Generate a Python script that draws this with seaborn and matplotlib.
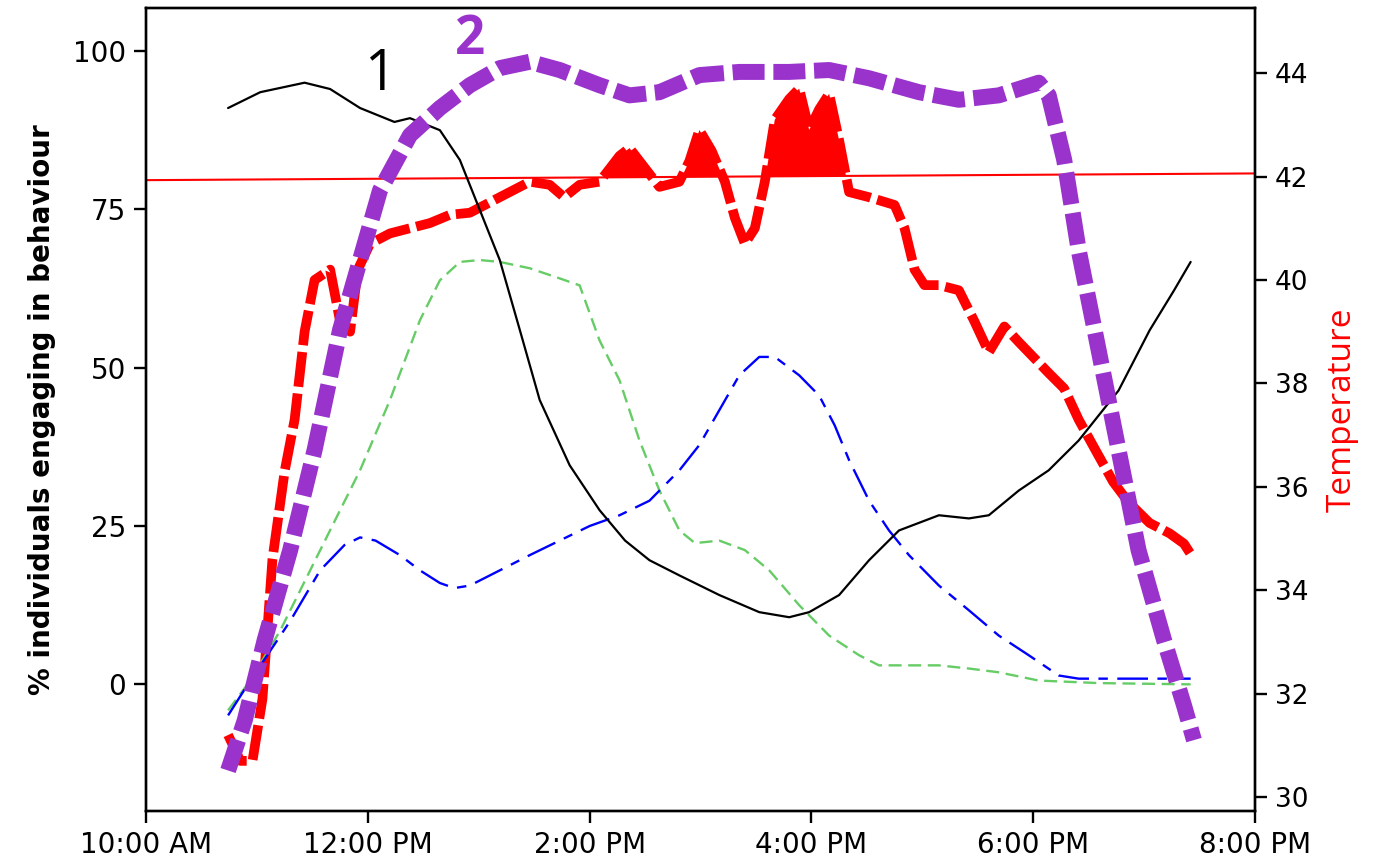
import numpy as np
import matplotlib
matplotlib.use("Agg")
import matplotlib.pyplot as plt
import seaborn as sns

# ---- data (hours of day) ----
black_t = [10.74, 11.03, 11.43, 11.66, 11.93, 12.24, 12.38, 12.65, 12.83, 13.01, 13.19, 13.37,
           13.55, 13.82, 14.09, 14.32, 14.54, 14.81, 15.17, 15.53, 15.80, 15.98, 16.25, 16.52,
           16.79, 17.15, 17.42, 17.60, 17.87, 18.14, 18.41, 18.77, 19.05, 19.27, 19.42]
black_v = [91.0, 93.5, 95.0, 94.0, 91.0, 88.8, 89.4, 87.5, 82.8, 74.9, 67.0, 56.0,
           44.9, 34.6, 27.5, 22.7, 19.6, 17.2, 14.1, 11.4, 10.6, 11.4, 14.1, 19.6,
           24.3, 26.7, 26.2, 26.7, 30.6, 33.8, 38.5, 46.4, 55.9, 62.2, 66.7]

purple_t = [10.74, 10.89, 11.07, 11.30, 11.52, 11.75, 11.93, 12.11, 12.38, 12.65, 12.92, 13.19,
            13.46, 13.73, 14.09, 14.36, 14.63, 14.99, 15.35, 15.80, 16.16, 16.52, 16.97, 17.33,
            17.69, 18.05, 18.14, 18.28, 18.41, 18.59, 18.77, 18.95, 19.18, 19.36, 19.45]
purple_v = [-13.6, -5.7, 7.0, 21.2, 37.0, 56.0, 67.0, 78.0, 86.7, 91.0, 94.6, 97.3,
            98.3, 97.0, 94.6, 93.0, 93.5, 96.2, 96.7, 96.7, 97.0, 95.7, 93.5, 92.3,
            93.0, 95.0, 93.0, 82.8, 68.6, 52.8, 37.0, 21.2, 7.0, -3.3, -8.8]

green_t = [10.74, 10.94, 11.21, 11.48, 11.75, 11.93, 12.20, 12.47, 12.65, 12.83, 13.01, 13.19,
           13.46, 13.73, 13.91, 14.09, 14.27, 14.45, 14.63, 14.81, 14.95, 15.17, 15.40, 15.62,
           15.89, 16.16, 16.43, 16.61, 17.15, 17.42, 17.69, 18.05, 18.59, 19.42]
green_v = [-4.1, 0.6, 8.5, 18.0, 27.5, 33.8, 44.9, 57.5, 63.8, 66.7, 67.0, 66.7,
           65.7, 64.1, 63.0, 54.3, 48.0, 38.5, 30.6, 24.3, 22.3, 22.7, 21.2, 18.0,
           12.5, 7.7, 4.6, 3.0, 3.0, 2.5, 1.9, 0.6, 0.2, 0.0]

blue_t = [10.74, 10.94, 11.30, 11.57, 11.79, 11.93, 12.07, 12.29, 12.47, 12.65, 12.78, 12.92,
          13.19, 13.46, 13.73, 14.00, 14.27, 14.54, 14.81, 14.99, 15.17, 15.35, 15.53, 15.67,
          15.89, 16.07, 16.21, 16.34, 16.52, 16.70, 16.88, 17.15, 17.42, 17.69, 17.96, 18.23,
          18.41, 19.42]
blue_v = [-4.9, 0.6, 10.0, 18.0, 22.0, 23.2, 22.7, 20.4, 18.0, 16.0, 15.2, 15.6,
          18.0, 20.4, 22.7, 25.0, 26.7, 29.0, 33.8, 37.8, 43.3, 48.8, 51.7, 51.7,
          48.8, 45.6, 40.9, 35.4, 29.0, 24.3, 20.4, 15.6, 11.7, 7.7, 4.6, 1.4,
          0.9, 0.9]

temp_t = [10.74, 10.85, 10.96, 11.05, 11.14, 11.25, 11.34, 11.43, 11.52, 11.66, 11.75, 11.84,
          11.91, 12.02, 12.20, 12.38, 12.56, 12.74, 12.92, 13.10, 13.28, 13.46, 13.64, 13.77,
          13.91, 14.09, 14.27, 14.36, 14.45, 14.63, 14.81, 14.90, 14.99, 15.10, 15.22, 15.31,
          15.40, 15.49, 15.58, 15.67, 15.80, 15.89, 15.98, 16.07, 16.16, 16.25, 16.34, 16.52,
          16.75, 16.84, 16.93, 17.02, 17.15, 17.33, 17.47, 17.60, 17.74, 17.87, 18.14, 18.28,
          18.41, 18.59, 18.72, 18.86, 19.05, 19.23, 19.36, 19.42]
temp_v = [31.2, 30.7, 30.7, 31.9, 34.6, 36.3, 37.3, 39.0, 40.0, 40.2, 39.2, 39.0,
          40.2, 40.7, 40.9, 41.0, 41.1, 41.26, 41.3, 41.5, 41.7, 41.9, 41.84, 41.6,
          41.84, 41.9, 42.4, 42.55, 42.3, 41.8, 41.9, 42.3, 42.9, 42.5, 41.9, 41.2,
          40.7, 41.0, 41.9, 43.1, 43.5, 43.7, 42.9, 43.3, 43.6, 42.7, 41.7, 41.6,
          41.45, 41.0, 40.2, 39.9, 39.9, 39.8, 39.2, 38.6, 39.1, 38.8, 38.2, 37.9,
          37.3, 36.6, 36.1, 35.7, 35.3, 35.1, 34.9, 34.7]

thresh_t = [10.0, 20.0]
thresh_v = [41.93, 42.06]

xtick_pos = [10, 12, 14, 16, 18, 20]
xtick_lab = ['10:00 AM', '12:00 PM', '2:00 PM', '4:00 PM', '6:00 PM', '8:00 PM']
ltick_pos = [0, 25, 50, 75, 100]
rtick_pos = [30, 32, 34, 36, 38, 40, 42, 44]

# ---- style ----
sns.set_style("white")
plt.rcParams['font.family'] = ['DejaVu Sans']
plt.rcParams['text.color'] = 'black'
plt.rcParams['axes.labelcolor'] = 'black'

fig = plt.figure(figsize=(13.75, 8.65), dpi=100)
ax = fig.add_axes([0.1062, 0.0624, 0.8065, 0.9284])
ax2 = ax.twinx()
ax.set_zorder(ax2.get_zorder() + 1)
ax.patch.set_visible(False)

# right axis: temperature, shaded where it is above the threshold line
tt = np.array(temp_t)
tv = np.array(temp_v)
thr = np.interp(tt, thresh_t, thresh_v)
ax2.fill_between(tt, tv, thr, where=tv > thr, interpolate=True, color='#FF0000', lw=0)
sns.lineplot(x=temp_t, y=temp_v, ax=ax2, color='#FF0000', lw=7, linestyle=(0, (3.6, 0.7)),
             sort=False)
sns.lineplot(x=thresh_t, y=thresh_v, ax=ax2, color='#FF0000', lw=1.5)

# left axis: behaviours
sns.lineplot(x=green_t, y=green_v, ax=ax, color='#66CC66', lw=1.7, linestyle=(0, (5.5, 2.8)))
sns.lineplot(x=blue_t, y=blue_v, ax=ax, color='#0000FF', lw=1.7, linestyle=(0, (13, 4, 4, 4)))
sns.lineplot(x=black_t, y=black_v, ax=ax, color='black', lw=1.6)
sns.lineplot(x=purple_t, y=purple_v, ax=ax, color='#9933CC', lw=11.5, linestyle=(0, (2.0, 0.55)))

ax.text(12.11, 96.2, '1', fontsize=40, color='black', ha='center', va='center',
        family=['Open Sans', 'DejaVu Sans'])
ax.text(12.92, 101.7, '2', fontsize=38, color='#9933CC', ha='center', va='center',
        fontweight='bold', family=['Open Sans', 'DejaVu Sans'])

ax.set_xlim(10, 20)
ax.set_ylim(-20, 106.8)
ax2.set_ylim(29.73, 45.26)

ax.set_xticks(xtick_pos)
ax.set_xticklabels(xtick_lab, fontsize=20)
ax.set_yticks(ltick_pos)
ax.set_yticklabels([str(v) for v in ltick_pos], fontsize=20)
ax2.set_yticks(rtick_pos)
ax2.set_yticklabels([str(v) for v in rtick_pos], fontsize=19)

ax.set_ylabel('% individuals engaging in behaviour', fontsize=20, fontweight='bold',
              labelpad=12, color='black')
ax2.set_ylabel('Temperature', fontsize=24, color='#FF0000', labelpad=12,
               family=['Open Sans', 'DejaVu Sans'])
ax.set_xlabel('')

for a in (ax, ax2):
    for s in a.spines.values():
        s.set_color('black')
        s.set_linewidth(1.7)
    a.tick_params(direction='out', length=8.5, width=1.7, colors='black', pad=6)
ax.tick_params(axis='both', which='both', left=True, bottom=True)
ax2.tick_params(axis='y', right=True)

fig.savefig('out.png', dpi=100)
